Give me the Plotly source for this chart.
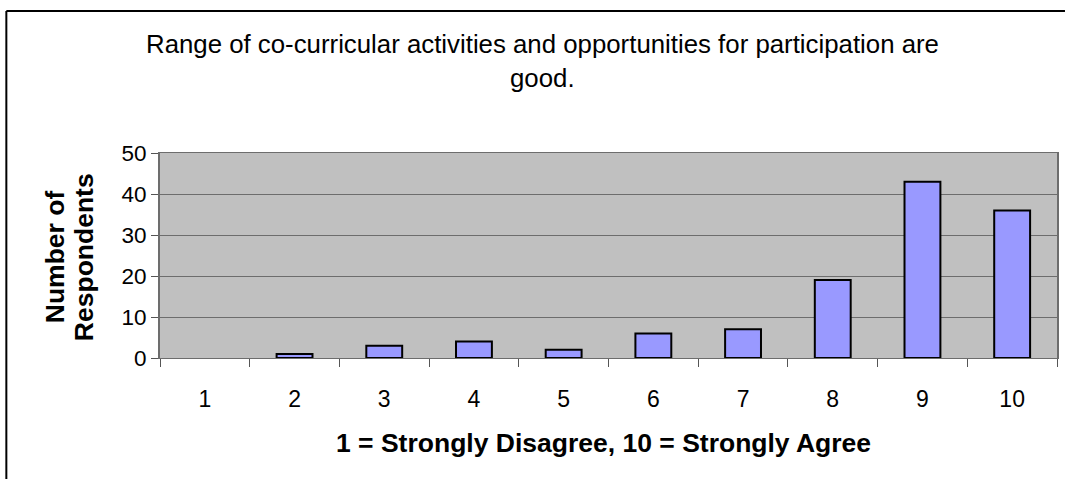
import plotly.graph_objects as go

categories = ["1", "2", "3", "4", "5", "6", "7", "8", "9", "10"]
respondents = [0, 1, 3, 4, 2, 6, 7, 19, 43, 36]
title_lines = ["Range of co-curricular activities and opportunities for participation are", "good."]
x_title = "1 = Strongly Disagree, 10 = Strongly Agree"
y_title_lines = ["Number of", "Respondents"]

W, H = 1067, 479
ML, MR, MT, MB = 160, 8, 153, 121
PW, PH = W - ML - MR, H - MT - MB

def px(x):
    return (x - ML) / PW

def py(y):
    return (H - MB - y) / PH

FONT = "Liberation Sans, Arial, sans-serif"

fig = go.Figure(go.Bar(
    x=categories, y=respondents,
    marker=dict(color="#9999FF",
                line=dict(color="black", width=[0 if v == 0 else 2 for v in respondents])),
    hoverinfo="skip",
))

fig.update_layout(
    width=W, height=H,
    margin=dict(l=ML, r=MR, t=MT, b=MB),
    paper_bgcolor="white", plot_bgcolor="#C0C0C0",
    bargap=0.6, showlegend=False,
    font=dict(family=FONT, size=23, color="black"),
)
fig.update_xaxes(
    type="category", range=[-0.5, 9.5],
    showline=True, linecolor="#6d6d6d", linewidth=1, mirror=True,
    ticks="outside", tickson="boundaries", ticklen=8, tickcolor="#555", tickwidth=1,
    showgrid=False, tickfont=dict(size=23), ticklabelstandoff=20,
)
fig.update_yaxes(
    range=[0, 50], dtick=10, tick0=0,
    showline=True, linecolor="#6d6d6d", linewidth=2, mirror=True,
    ticks="outside", ticklen=7, tickcolor="#555", tickwidth=1,
    showgrid=True, gridcolor="#6d6d6d", gridwidth=1,
    zeroline=False, tickfont=dict(size=22.5), ticklabelstandoff=0,
)

ann = []
ann.append(dict(text=title_lines[0], x=px(543), y=py(44), xref="paper", yref="paper",
                showarrow=False, font=dict(size=25.8), xanchor="center", yanchor="middle"))
ann.append(dict(text=title_lines[1], x=px(543), y=py(78), xref="paper", yref="paper",
                showarrow=False, font=dict(size=25.8), xanchor="center", yanchor="middle"))
ann.append(dict(text="<b>" + x_title + "</b>", x=px(604), y=py(443), xref="paper", yref="paper",
                showarrow=False, font=dict(size=26.5), xanchor="center", yanchor="middle"))
for txt, xc in zip(y_title_lines, [55, 84]):
    ann.append(dict(text="<b>" + txt + "</b>", x=px(xc), y=py(257), xref="paper", yref="paper",
                    showarrow=False, font=dict(size=26.5), xanchor="center", yanchor="middle",
                    textangle=-90))
fig.update_layout(annotations=ann)

# outer frame: only left and top edges are visible in the reference
fig.add_shape(type="line", xref="paper", yref="paper",
              x0=px(6), x1=px(6), y0=py(H), y1=py(11),
              line=dict(color="black", width=2), layer="above")
fig.add_shape(type="line", xref="paper", yref="paper",
              x0=px(6), x1=px(W), y0=py(11), y1=py(11),
              line=dict(color="black", width=2), layer="above")

fig.write_html("out.html", config={"displayModeBar": False},
               post_script="document.body.style.margin='0';document.body.style.overflow='hidden';")
